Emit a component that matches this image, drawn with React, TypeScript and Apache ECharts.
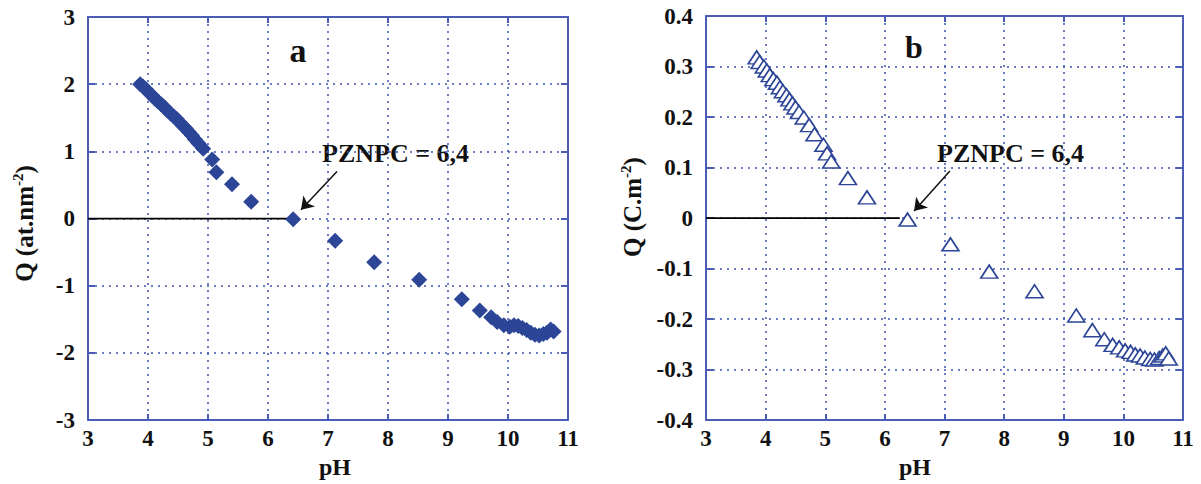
import React, { useEffect, useRef } from 'react';
import * as echarts from 'echarts';

// Chart a: Q (at.nm-2) vs pH — filled diamonds
const phA = [3.87, 3.92, 3.97, 4.02, 4.07, 4.12, 4.17, 4.22, 4.27, 4.32, 4.38, 4.43, 4.48, 4.53, 4.58, 4.63, 4.68, 4.73, 4.78, 4.84, 4.92, 5.07, 5.14, 5.40, 5.72, 6.42, 7.12, 7.77, 8.52, 9.23, 9.53, 9.72, 9.82, 9.93, 10.03, 10.10, 10.17, 10.24, 10.31, 10.38, 10.45, 10.52, 10.59, 10.65, 10.71, 10.76];
const qA = [2.00, 1.96, 1.92, 1.87, 1.83, 1.78, 1.74, 1.70, 1.66, 1.61, 1.56, 1.52, 1.48, 1.43, 1.38, 1.34, 1.29, 1.24, 1.18, 1.12, 1.04, 0.88, 0.69, 0.51, 0.25, -0.01, -0.33, -0.65, -0.91, -1.20, -1.37, -1.47, -1.54, -1.59, -1.61, -1.59, -1.60, -1.63, -1.66, -1.70, -1.73, -1.74, -1.72, -1.70, -1.65, -1.68];

// Chart b: Q (C.m-2) vs pH — open triangles
const phB = [3.85, 3.90, 3.97, 4.02, 4.07, 4.13, 4.19, 4.24, 4.29, 4.35, 4.40, 4.45, 4.50, 4.56, 4.64, 4.73, 4.82, 4.97, 5.03, 5.10, 5.38, 5.70, 6.38, 7.10, 7.75, 8.51, 9.21, 9.48, 9.68, 9.82, 9.93, 10.03, 10.12, 10.20, 10.28, 10.36, 10.45, 10.52, 10.60, 10.66, 10.71, 10.76];
const qB = [0.318, 0.309, 0.300, 0.292, 0.283, 0.275, 0.268, 0.259, 0.251, 0.243, 0.235, 0.227, 0.219, 0.210, 0.199, 0.184, 0.166, 0.145, 0.128, 0.112, 0.079, 0.041, -0.003, -0.052, -0.106, -0.145, -0.193, -0.222, -0.240, -0.251, -0.256, -0.262, -0.265, -0.270, -0.272, -0.276, -0.279, -0.280, -0.277, -0.272, -0.268, -0.278];

const pznpc = 6.4;
const zeroLineA = [[3, 0], [pznpc, 0]];
const zeroLineB = [[3, 0], [6.25, 0]];
const arrowA = [[7.15, 0.70], [6.55, 0.13]];
const arrowB = [[7.09, 0.093], [6.49, 0.014]];
const annotationText = 'PZNPC = 6,4';

const AXIS = '#4a5cb5';
const GRIDC = '#3b52ad';
const MARK = '#2c4596';
const FONT = 'Liberation Serif';

function xAxes(gridIndex: number) {
  const base = { gridIndex, type: 'value', min: 3, max: 11, interval: 1 };
  return [
    {
      ...base,
      position: 'bottom',
      axisLine: { show: true, onZero: false, lineStyle: { color: AXIS, width: 2 } },
      axisTick: { show: true, inside: true, length: 6, lineStyle: { color: AXIS, width: 2 } },
      axisLabel: { color: '#111', fontFamily: FONT, fontWeight: 'bold', fontSize: 23, margin: 7 },
      splitLine: { show: true, lineStyle: { color: GRIDC, type: [2, 5], width: 1.5 } },
    },
    {
      ...base,
      position: 'top',
      axisLine: { show: true, onZero: false, lineStyle: { color: AXIS, width: 2 } },
      axisTick: { show: true, inside: true, length: 6, lineStyle: { color: AXIS, width: 2 } },
      axisLabel: { show: false },
      splitLine: { show: false },
    },
  ];
}

function yAxes(gridIndex: number, min: number, max: number, interval: number) {
  const base = { gridIndex, type: 'value', min, max, interval };
  return [
    {
      ...base,
      position: 'left',
      axisLine: { show: true, onZero: false, lineStyle: { color: AXIS, width: 2 } },
      axisTick: { show: true, inside: true, length: 7, lineStyle: { color: AXIS, width: 2 } },
      axisLabel: { color: '#111', fontFamily: FONT, fontWeight: 'bold', fontSize: 23, margin: 13 },
      splitLine: { show: true, lineStyle: { color: GRIDC, type: [2, 5], width: 1.5 } },
    },
    {
      ...base,
      position: 'right',
      axisLine: { show: true, onZero: false, lineStyle: { color: AXIS, width: 2 } },
      axisTick: { show: true, inside: true, length: 7, lineStyle: { color: AXIS, width: 2 } },
      axisLabel: { show: false },
      splitLine: { show: false },
    },
  ];
}

export default function App() {
  const ref = useRef<HTMLDivElement>(null);
  useEffect(() => {
    const chart = echarts.init(ref.current as HTMLDivElement, null, { renderer: 'svg' });
    const xa = xAxes(0);
    const xb = xAxes(1);
    const ya = yAxes(0, -3, 3, 1);
    const yb = yAxes(1, -0.4, 0.4, 0.1);

    (xa[0] as any).name = 'pH';
    (xa[0] as any).nameLocation = 'middle';
    (xa[0] as any).nameGap = 26;
    (xa[0] as any).nameTextStyle = { color: '#111', fontFamily: FONT, fontWeight: 'bold', fontSize: 24, padding: [0, 0, 0, 14] };
    (xb[0] as any).name = 'pH';
    (xb[0] as any).nameLocation = 'middle';
    (xb[0] as any).nameGap = 20;
    (xb[0] as any).nameTextStyle = { color: '#111', fontFamily: FONT, fontWeight: 'bold', fontSize: 24, padding: [0, 59, 0, 0] };

    const richName = {
      t: { fontFamily: FONT, fontWeight: 'bold', fontSize: 25, color: '#111', lineHeight: 28 },
      s: { fontFamily: FONT, fontWeight: 'bold', fontSize: 15, color: '#111', verticalAlign: 'top', lineHeight: 14 },
    };
    (ya[0] as any).name = '{t|Q (at.nm}{s|-2}{t|)}';
    (ya[0] as any).nameLocation = 'middle';
    (ya[0] as any).nameRotate = 90;
    (ya[0] as any).nameGap = 50;
    (ya[0] as any).nameTextStyle = { rich: richName, padding: [0, 10, 0, 0] };
    (yb[0] as any).name = '{t|Q (C.m}{s|-2}{t|)}';
    (yb[0] as any).nameLocation = 'middle';
    (yb[0] as any).nameRotate = 90;
    (yb[0] as any).nameGap = 60;
    (yb[0] as any).nameTextStyle = { rich: richName, padding: [0, 0, 0, 22] };

    const textStyle = (size: number) => ({ font: `bold ${size}px "${FONT}"`, fill: '#111' });

    const option: any = {
      animation: false,
      backgroundColor: '#fff',
      grid: [
        { left: 88, top: 17, width: 480, height: 413 },
        { left: 706, top: 16, width: 477, height: 414 },
      ],
      xAxis: [...xa, ...xb],
      yAxis: [...ya, ...yb],
      graphic: [
        { type: 'text', x: 298, y: 50, style: { ...textStyle(34), text: 'a', textAlign: 'center', textVerticalAlign: 'middle' } },
        { type: 'text', x: 914, y: 47, style: { ...textStyle(32), text: 'b', textAlign: 'center', textVerticalAlign: 'middle' } },
        { type: 'text', x: 322, y: 153, style: { ...textStyle(26), text: annotationText, textVerticalAlign: 'middle' } },
        { type: 'text', x: 937, y: 153, style: { ...textStyle(26), text: annotationText, textVerticalAlign: 'middle' } },
      ],
      series: [
        {
          type: 'line', xAxisIndex: 0, yAxisIndex: 0, data: zeroLineA, symbol: 'none', z: 1,
          lineStyle: { color: '#000', width: 1.8 },
          markLine: {
            silent: true, symbol: ['none', 'arrow'], symbolSize: 12,
            lineStyle: { color: '#111', width: 1.5, type: 'solid' }, label: { show: false },
            data: [[{ coord: arrowA[0] }, { coord: arrowA[1] }]],
          },
        },
        {
          type: 'scatter', xAxisIndex: 0, yAxisIndex: 0, z: 3,
          data: phA.map((p, i) => [p, qA[i]]),
          symbol: 'diamond', symbolSize: [16, 16],
          itemStyle: { color: MARK, opacity: 1 },
        },
        {
          type: 'line', xAxisIndex: 2, yAxisIndex: 2, data: zeroLineB, symbol: 'none', z: 1,
          lineStyle: { color: '#000', width: 1.8 },
          markLine: {
            silent: true, symbol: ['none', 'arrow'], symbolSize: 12,
            lineStyle: { color: '#111', width: 1.5, type: 'solid' }, label: { show: false },
            data: [[{ coord: arrowB[0] }, { coord: arrowB[1] }]],
          },
        },
        {
          type: 'scatter', xAxisIndex: 2, yAxisIndex: 2, z: 3,
          data: phB.map((p, i) => [p, qB[i]]),
          symbol: 'triangle', symbolSize: [17, 13],
          itemStyle: { color: '#fff', borderColor: MARK, borderWidth: 1.6, opacity: 1 },
        },
      ],
    };
    chart.setOption(option);
    return () => chart.dispose();
  }, []);
  return (
    <div
      ref={ref}
      style={{ position: 'absolute', left: 0, top: 0, width: 1201, height: 484, background: '#fff' }}
    />
  );
}
